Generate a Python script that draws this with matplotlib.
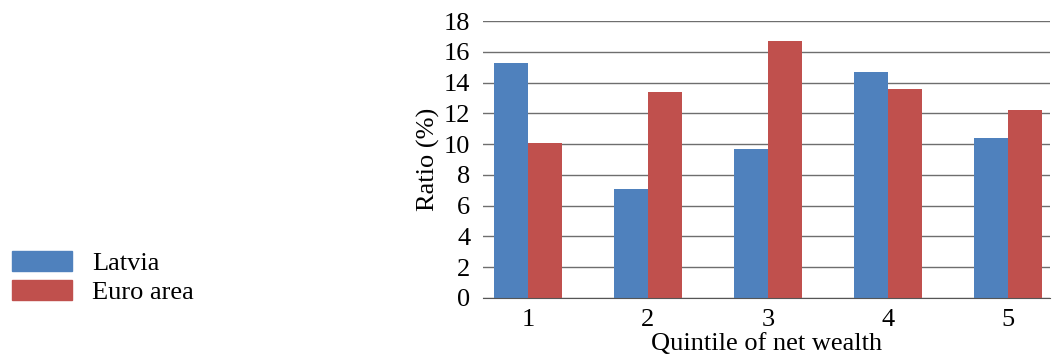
import matplotlib
matplotlib.use('Agg')
import matplotlib.pyplot as plt
import numpy as np
from matplotlib.patches import Patch

# Data
quintiles = ['1', '2', '3', '4', '5']
latvia = [15.3, 7.1, 9.7, 14.7, 10.4]
euro_area = [10.1, 13.4, 16.7, 13.6, 12.2]
series_names = ['Latvia', 'Euro area']

plt.rcParams['font.family'] = ['Liberation Serif', 'DejaVu Serif']

fig = plt.figure(figsize=(10.58, 3.58), dpi=100)
ax = fig.add_axes([483 / 1058, 1 - 298 / 358, (1050 - 483) / 1058, (298 - 21) / 358])

x = np.arange(len(quintiles))
w = 0.283
blue = '#4F81BD'
red = '#C0504D'
ax.bar(x - w / 2, latvia, width=w, color=blue, zorder=3)
ax.bar(x + w / 2, euro_area, width=w, color=red, zorder=3)

ax.set_xlim(-0.375, 4.35)
ax.set_ylim(0, 18)
ax.set_yticks(range(0, 19, 2))
ax.set_xticks(x)
ax.set_xticklabels(quintiles)
ax.tick_params(axis='both', labelsize=19, length=0)
ax.tick_params(axis='x', pad=8)
ax.tick_params(axis='y', pad=9)
ax.grid(axis='y', color='#6e6e6e', linewidth=1.0, zorder=0)
for s in ['left', 'right', 'top']:
    ax.spines[s].set_visible(False)
ax.spines['bottom'].set_color('#555555')
ax.spines['bottom'].set_zorder(4)

ax.set_xlabel('Quintile of net wealth', fontsize=19, labelpad=1)
ax.set_ylabel('Ratio (%)', fontsize=19, labelpad=3)

handles = [Patch(color=blue), Patch(color=red)]
fig.legend(handles, series_names, loc='upper left', bbox_to_anchor=(12 / 1058, 1 - 251 / 358),
           frameon=False, fontsize=19, handlelength=2.27, handleheight=0.76,
           labelspacing=0.2, handletextpad=0.76, borderpad=0, borderaxespad=0)

fig.savefig('out.png', dpi=100)
